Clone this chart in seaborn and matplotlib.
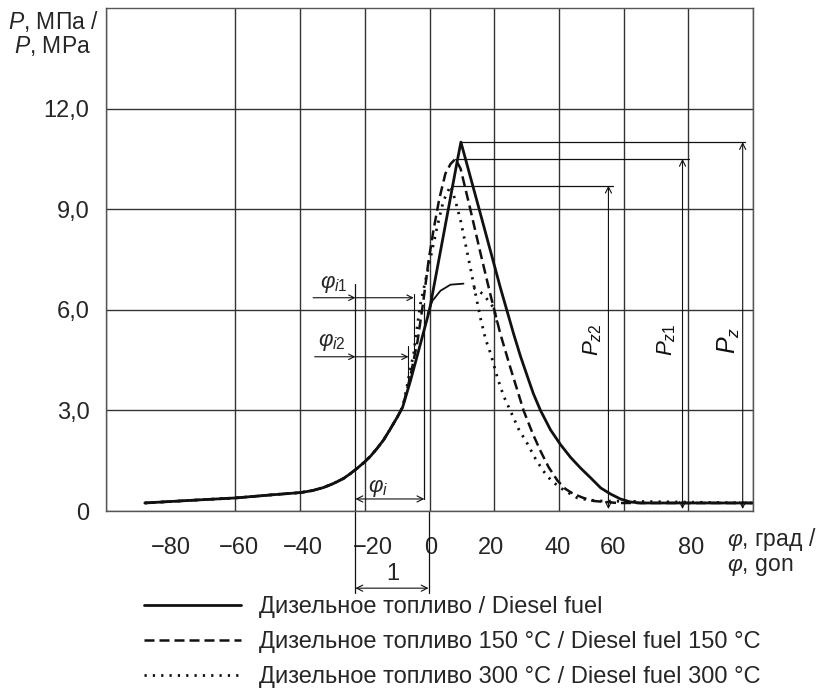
import pandas as pd
import matplotlib.pyplot as plt
import seaborn as sns

sns.set_theme(style="white")
plt.rcParams["font.family"] = ["Liberation Sans", "DejaVu Sans"]
plt.rcParams["mathtext.fontset"] = "custom"
plt.rcParams["mathtext.rm"] = "Liberation Sans"
plt.rcParams["mathtext.it"] = "Liberation Sans:italic"
plt.rcParams["mathtext.fallback"] = "stixsans"

# crank angle (deg) / pressure (MPa)
base_phi = [-88, -71.7, -60, -49.1, -39.9, -36.2, -32.8, -29.7, -26.6, -24.4, -22.3, -20.1,
            -18.2, -16.1, -14.2, -12.1, -9.9, -8.3]
base_p = [0.24, 0.33, 0.39, 0.48, 0.55, 0.61, 0.70, 0.82, 0.97, 1.12, 1.28, 1.46,
          1.64, 1.88, 2.12, 2.45, 2.81, 3.1]

diesel_phi = base_phi + [-5.9, -2.8, 0.0, 3.0, 6.0, 8.5, 9.7, 15.8, 21.9, 26.0, 28.1, 30.3,
                         32.1, 34.3, 37.4, 40.5, 43.6, 46.7, 49.8, 52.9, 55.9, 59.0, 62.1,
                         65.2, 100]
diesel_p = base_p + [3.88, 4.99, 6.0, 7.55, 9.1, 10.4, 11.0, 8.84, 6.66, 5.28, 4.62, 4.0,
                     3.5, 3.0, 2.42, 1.98, 1.60, 1.28, 0.99, 0.69, 0.51, 0.36, 0.27,
                     0.24, 0.24]

d150_phi = base_phi + [-7.0, -5.9, -3.7, -1.9, -0.3, 1.2, 3.0, 4.9, 6.5, 8.0, 9.6, 12.7, 15.8,
                       18.9, 21.9, 25.0, 29.1, 31.8, 34.3, 36.8, 39.6, 42.0, 44.5, 47.6,
                       50.7, 54.4, 58.1, 100]
d150_p = base_p + [3.6, 4.03, 5.07, 6.27, 7.46, 8.36, 9.3, 10.06, 10.35, 10.5, 10.21, 8.96, 7.67,
                   6.42, 5.28, 4.27, 2.99, 2.33, 1.79, 1.31, 0.90, 0.66, 0.51, 0.39,
                   0.30, 0.27, 0.24, 0.24]

d300_phi = base_phi + [-7.2, -6.2, -4.9, -3.7, -2.8, -0.6, 0.3, 2.3, 4.3, 6.5, 8.0, 9.6, 11.1,
                       12.7, 14.2, 15.8, 17.3, 18.9, 21.0, 22.9, 25.0, 27.5, 30.3, 32.8, 35.2,
                       37.7, 40.5, 43.0, 45.7, 49.1, 52.9, 100]
d300_p = base_p + [3.6, 4.1, 4.69, 5.58, 6.18, 7.16, 7.55, 8.45, 9.25, 9.7, 9.25, 8.66, 7.97,
                   7.22, 6.48, 5.73, 5.13, 4.69, 3.97, 3.43, 2.99, 2.45, 2.0, 1.55, 1.19,
                   0.90, 0.69, 0.54, 0.39, 0.33, 0.30, 0.24]

# thin hump curve and its dotted tail
hump_phi = [-0.6, 0.9, 3.4, 6.5, 10.5]
hump_p = [5.88, 6.27, 6.57, 6.75, 6.78]
tail_phi = [13.6, 16.4, 18.2, 19.8, 21.0]
tail_p = [6.66, 6.48, 6.27, 6.06, 5.58]

labels = ["Дизельное топливо / Diesel fuel",
          "Дизельное топливо 150 °C / Diesel fuel 150 °C",
          "Дизельное топливо 300 °C / Diesel fuel 300 °C"]

y_ticks = [0, 3, 6, 9, 12]
y_ticklabels = ["0", "3,0", "6,0", "9,0", "12,0"]
x_grid = [-100, -80, -60, -40, -20, 0, 20, 40, 60, 80, 100]
x_label_pos = [-80, -58.8, -39.3, -17.5, 0.5, 19, 39.7, 56.8, 81]
x_ticklabels = ["−80", "−60", "−40", "−20", "0", "20", "40", "60", "80"]

# peaks: Pz, Pz1, Pz2
peak_phi = [9.7, 8.0, 6.5]
peak_p = [11.0, 10.5, 9.7]
peak_line_end = [97.4, 80.1, 56.6]
peak_arrow_x = [96.8, 78.2, 55.3]
peak_names = ["$P_z$", "$P_{z1}$", "$P_{z2}$"]
peak_text_x = [92.4, 73.3, 50.4]

fig = plt.figure(figsize=(8.23, 6.89), dpi=100)
ax = fig.add_axes([0.1288, 0.2583, 0.7862, 0.7301])

ink = "#111111"
sns.lineplot(x=diesel_phi, y=diesel_p, ax=ax, color=ink, lw=2.0, label=labels[0])
sns.lineplot(x=d150_phi, y=d150_p, ax=ax, color=ink, lw=1.8, linestyle=(0, (4, 2)), label=labels[1])
sns.lineplot(x=d300_phi, y=d300_p, ax=ax, color=ink, lw=2.0, linestyle=(0, (0.8, 2.2)),
             label=labels[2])
sns.lineplot(x=hump_phi, y=hump_p, ax=ax, color=ink, lw=1.3)
sns.lineplot(x=tail_phi, y=tail_p, ax=ax, color=ink, lw=2.0, linestyle=(0, (0.8, 2.2)))

ax.set_xlim(-100, 100)
ax.set_ylim(0, 15)
ax.set_xticks(x_label_pos)
ax.set_xticklabels(x_ticklabels, fontsize=17)
ax.set_xticks(x_grid, minor=True)
ax.set_yticks(y_ticks)
ax.set_yticklabels(y_ticklabels, fontsize=17)
ax.tick_params(axis="both", which="both", length=0)
ax.tick_params(axis="x", pad=19)
ax.tick_params(axis="y", pad=12)
ax.grid(False)
ax.grid(True, which="minor", axis="x", color="#333333", lw=1.0)
ax.grid(True, which="major", axis="y", color="#333333", lw=1.0)
for s in ax.spines.values():
    s.set_color("#555555")
    s.set_linewidth(1.0)
ax.set_xlabel("")
ax.set_ylabel("")

# Pz annotations
arrow_kw = dict(arrowstyle="<->", color=ink, lw=0.8, shrinkA=0, shrinkB=0, mutation_scale=11)
for px, pp, pend, ax_x, name, tx in zip(peak_phi, peak_p, peak_line_end, peak_arrow_x,
                                        peak_names, peak_text_x):
    ax.plot([px, pend], [pp, pp], color=ink, lw=0.9)
    ax.annotate("", xy=(ax_x, 0.06), xytext=(ax_x, pp), arrowprops=arrow_kw)
    ax.text(tx, 5.1, name, rotation=90, ha="center", va="center",
            fontsize=18 if name == "$P_z$" else 16, color=ink)

# injection angles
one_arrow = dict(arrowstyle="->", color=ink, lw=0.8, shrinkA=0, shrinkB=0, mutation_scale=10)
ax.plot([-22.9, -22.9], [6.78, -2.45], color=ink, lw=0.9, clip_on=False)
ax.plot([-0.3, -0.3], [0, -2.45], color=ink, lw=0.9, clip_on=False)
ax.plot([-1.6, -1.6], [6.2, 0.36], color=ink, lw=0.9)

ax.annotate("", xy=(-22.9, 6.36), xytext=(-36.0, 6.36), arrowprops=one_arrow)
ax.annotate("", xy=(-4.9, 6.36), xytext=(-22.9, 6.36), arrowprops=one_arrow)
ax.plot([-4.9, -4.9], [6.48, 4.78], color=ink, lw=0.8)
ax.text(-29.7, 6.78, r"$\varphi_{i1}$", ha="center", va="center", fontsize=16)

ax.annotate("", xy=(-22.9, 4.6), xytext=(-35.5, 4.6), arrowprops=one_arrow)
ax.annotate("", xy=(-6.5, 4.6), xytext=(-22.9, 4.6), arrowprops=one_arrow)
ax.plot([-6.5, -6.5], [4.93, 3.88], color=ink, lw=0.8)
ax.text(-30.3, 5.04, r"$\varphi_{i2}$", ha="center", va="center", fontsize=16)

ax.annotate("", xy=(-1.6, 0.36), xytext=(-22.9, 0.36), arrowprops=arrow_kw)
ax.text(-15.8, 0.7, r"$\varphi_i$", ha="center", va="center", fontsize=16)

ax.annotate("", xy=(-0.3, -2.3), xytext=(-22.9, -2.3), arrowprops=arrow_kw,
            annotation_clip=False)
ax.text(-11.5, -1.88, "1", ha="center", va="center", fontsize=17, clip_on=False)

# axis titles
fig.text(53 / 823, 1 - 33 / 689, "$P$, МПа /\n$P$, MPa", ha="center", va="center",
         fontsize=16.5, linespacing=1.0)
fig.text(727 / 823, 1 - 552 / 689, "$\\varphi$, град /\n$\\varphi$, gon", ha="left",
         va="center", fontsize=16.5, linespacing=1.05)

handles, labs = ax.get_legend_handles_labels()
if ax.get_legend() is not None:
    ax.get_legend().remove()
fig.legend(handles, labs, loc="upper left", bbox_to_anchor=(144 / 823, 1 - 596 / 689),
           frameon=False, fontsize=17, handlelength=4.1, handletextpad=0.76,
           labelspacing=0.55, borderpad=0, borderaxespad=0)

fig.savefig("out.png", dpi=100)
